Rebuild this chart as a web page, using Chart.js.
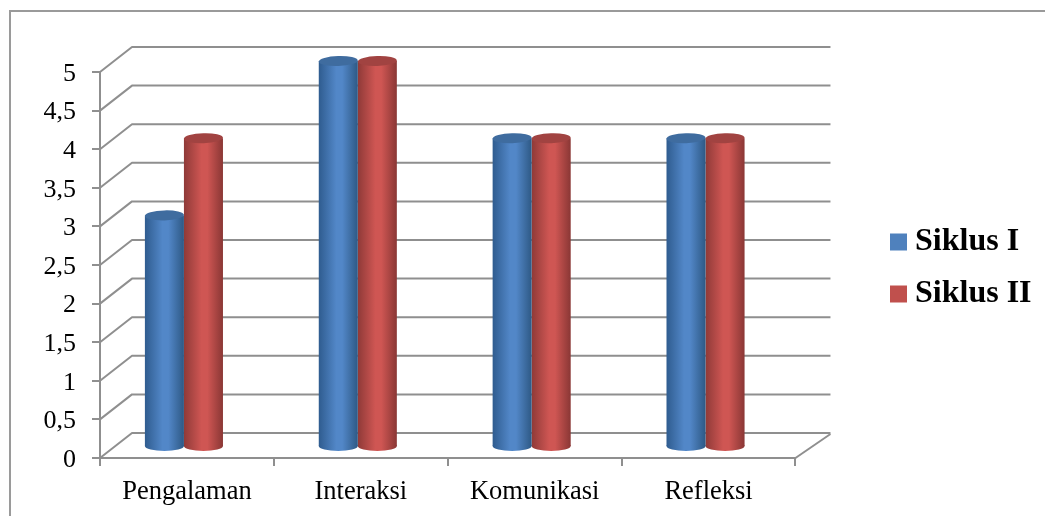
<!DOCTYPE html>
<html>
<head>
<meta charset="utf-8">
<style>
  html, body { margin: 0; padding: 0; background: #fff; }
  #wrap { position: relative; width: 1045px; height: 516px; }
</style>
<script src="https://cdn.jsdelivr.net/npm/chart.js@4"></script>
</head>
<body>
<div id="wrap"><canvas id="c" width="1045" height="516"></canvas></div>
<script>
const categories = ['Pengalaman', 'Interaksi', 'Komunikasi', 'Refleksi'];
const siklusI = [3, 5, 4, 4];
const siklusII = [4, 5, 4, 4];
const yTicks = ['0', '0,5', '1', '1,5', '2', '2,5', '3', '3,5', '4', '4,5', '5'];

const GRID = '#8f8f8f';
const SERIF = '"Liberation Serif", "Times New Roman", serif';
const WALL = { dx: 32, dy: -25 };      // offset of the back wall from the front plane
const FLOOR_RIGHT = { dx: 35, dy: -24 };
const BARS = { dx: -3, dy: -11, ry: 5 }; // cylinders stand part way into the floor
const CATEGORY_FILL = 0.449;

const palettes = [
  { edgeL: '#2f5c8f', mid: '#5287c8', edgeR: '#2e5985', top: '#3f6c9f', legend: '#4f81bd' },
  { edgeL: '#8f3a38', mid: '#cf5653', edgeR: '#8a3735', top: '#a14341', legend: '#c0504d' }
];

function barGradient(c, x0, x1, p) {
  const g = c.createLinearGradient(x0, 0, x1, 0);
  g.addColorStop(0, p.edgeL);
  g.addColorStop(0.45, p.mid);
  g.addColorStop(0.6, p.mid);
  g.addColorStop(1, p.edgeR);
  return g;
}

// Horizontal shading across one bar, located from the category scale
function shading(ctx) {
  const p = palettes[ctx.datasetIndex];
  const chart = ctx.chart;
  const xs = chart.scales.x;
  if (!xs || !chart.chartArea || ctx.dataIndex === undefined) return p.legend;
  const centre = xs.getPixelForValue(ctx.dataIndex);
  const w = xs.width / categories.length * CATEGORY_FILL / 2;
  const x0 = centre - w + ctx.datasetIndex * w;
  return barGradient(chart.ctx, x0, x0 + w, p);
}

// Box frame, side wall and back wall drawn from the value scale
const wallPlugin = {
  id: 'wall',
  beforeDatasetsDraw(chart) {
    const { ctx, chartArea: a, scales: { y } } = chart;
    ctx.save();
    ctx.strokeStyle = '#9a9a9a';
    ctx.lineWidth = 2;
    ctx.strokeRect(10, 11, 1100, 600);
    ctx.strokeStyle = GRID;
    ctx.lineWidth = 2;
    ctx.lineJoin = 'round';
    y.ticks.forEach(t => {
      const py = y.getPixelForValue(t.value);
      ctx.beginPath();
      ctx.moveTo(a.left, py);
      ctx.lineTo(a.left + WALL.dx, py + WALL.dy);
      ctx.lineTo(a.right + FLOOR_RIGHT.dx, py + WALL.dy);
      ctx.stroke();
    });
    ctx.beginPath();
    ctx.moveTo(a.right, a.bottom);
    ctx.lineTo(a.right + FLOOR_RIGHT.dx, a.bottom + FLOOR_RIGHT.dy);
    ctx.stroke();
    ctx.restore();
  }
};

// Turns each rectangular bar into a cylinder: shift into the floor, then add the end caps
const cylinderPlugin = {
  id: 'cylinder',
  beforeDatasetsDraw(chart) {
    const { ctx } = chart;
    ctx.save();
    ctx.translate(BARS.dx, BARS.dy);
    chart.data.datasets.forEach((ds, i) => {
      chart.getDatasetMeta(i).data.forEach(el => {
        ctx.fillStyle = barGradient(ctx, el.x - el.width / 2, el.x + el.width / 2, palettes[i]);
        ctx.beginPath();
        ctx.ellipse(el.x, el.base, el.width / 2, BARS.ry, 0, 0, Math.PI * 2);
        ctx.fill();
      });
    });
  },
  afterDatasetsDraw(chart) {
    const { ctx } = chart;
    chart.data.datasets.forEach((ds, i) => {
      chart.getDatasetMeta(i).data.forEach(el => {
        ctx.fillStyle = palettes[i].top;
        ctx.beginPath();
        ctx.ellipse(el.x, el.y, el.width / 2, BARS.ry, -0.03, 0, Math.PI * 2);
        ctx.fill();
      });
    });
    ctx.restore();
  }
};

// Places the legend block beside the plot
const legendPlacement = {
  id: 'legendPlacement',
  afterLayout(chart) {
    const l = chart.legend;
    const pad = l.options.labels.padding;
    l.left = 898 - pad;
    l.top = 226 - pad;
    l.right = chart.width;
    l.bottom = chart.height;
  }
};

new Chart(document.getElementById('c'), {
  type: 'bar',
  data: {
    labels: categories,
    datasets: [
      { label: 'Siklus I', data: siklusI, backgroundColor: shading, borderWidth: 0 },
      { label: 'Siklus II', data: siklusII, backgroundColor: shading, borderWidth: 0 }
    ]
  },
  plugins: [wallPlugin, cylinderPlugin, legendPlacement],
  options: {
    responsive: false,
    animation: false,
    clip: false,
    layout: { padding: { left: 0, top: 72, right: 86, bottom: 0 } },
    datasets: { bar: { barPercentage: 1, categoryPercentage: CATEGORY_FILL } },
    plugins: {
      title: { display: false },
      tooltip: { enabled: false },
      legend: {
        position: 'right',
        align: 'start',
        labels: {
          boxWidth: 1,
          boxHeight: 1,
          padding: 20,
          color: '#000',
          font: { family: SERIF, size: 32, weight: 'bold' },
          generateLabels(chart) {
            return chart.data.datasets.map((ds, i) => ({
              text: ds.label,
              fillStyle: palettes[i].legend,
              strokeStyle: palettes[i].legend,
              lineWidth: 16,
              datasetIndex: i
            }));
          }
        }
      }
    },
    scales: {
      x: {
        grid: { drawOnChartArea: false, color: GRID, lineWidth: 2, tickLength: 8, offset: true },
        border: { color: GRID, width: 2 },
        ticks: { color: '#000', padding: 10, maxRotation: 0, font: { family: SERIF, size: 26.5 } },
        afterFit(s) { s.height = 58; }
      },
      y: {
        min: 0,
        max: 5,
        grid: { drawOnChartArea: false, color: GRID, lineWidth: 2, tickLength: 8 },
        border: { color: GRID, width: 2 },
        ticks: {
          stepSize: 0.5,
          color: '#000',
          padding: 16,
          labelOffset: 2,
          font: { family: SERIF, size: 26 },
          callback: (v) => yTicks[Math.round(v * 2)]
        },
        afterFit(s) { s.width = 100; }
      }
    }
  }
});
</script>
</body>
</html>
